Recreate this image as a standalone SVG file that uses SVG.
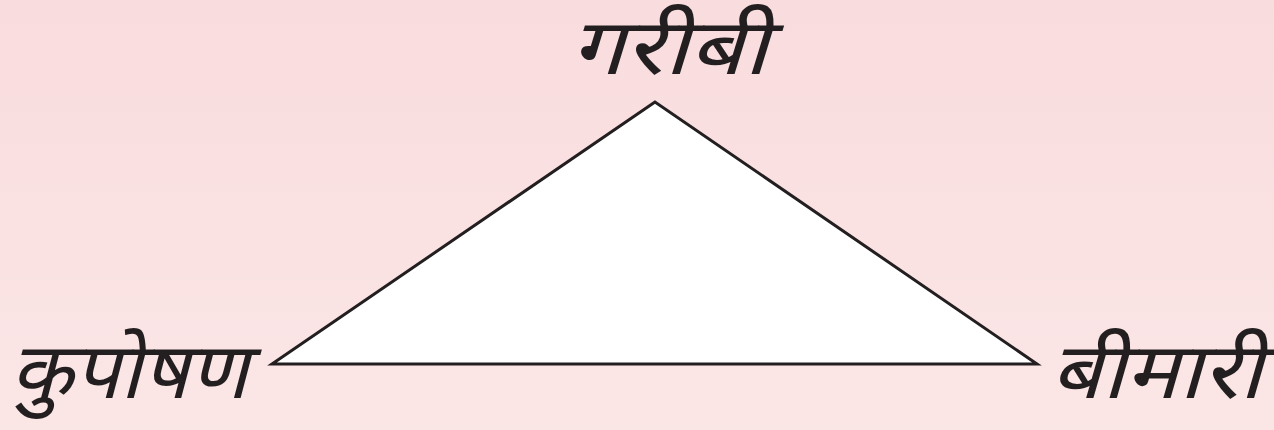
<svg xmlns="http://www.w3.org/2000/svg" width="1274" height="430" viewBox="0 0 1274 430">
<defs>
<linearGradient id="bg" x1="0" y1="0" x2="0" y2="1">
<stop offset="0" stop-color="#f9dcde"/>
<stop offset="1" stop-color="#fbe6e6"/>
</linearGradient>
<style>
.lbl{font-family:"Noto Sans Devanagari","Noto Sans","Lohit Devanagari",sans-serif;font-size:78px;font-style:italic;fill:#231f20}
.tri{fill:#ffffff;stroke:#231f20;stroke-width:3;stroke-linejoin:miter}
</style>
</defs>
<rect width="1274" height="430" fill="url(#bg)"/>
<g id="connectors">
<polygon class="tri" points="655,102 272,364 1037,364"/>
</g>
<g id="node-garibi"><text class="lbl" x="570" y="74" textLength="198" lengthAdjust="spacingAndGlyphs">गरीबी</text></g>
<g id="node-kuposhan"><text class="lbl" x="10" y="398" textLength="238" lengthAdjust="spacingAndGlyphs">कुपोषण</text></g>
<g id="node-bimari"><text class="lbl" x="1050" y="398" textLength="212" lengthAdjust="spacingAndGlyphs">बीमारी</text></g>
</svg>
